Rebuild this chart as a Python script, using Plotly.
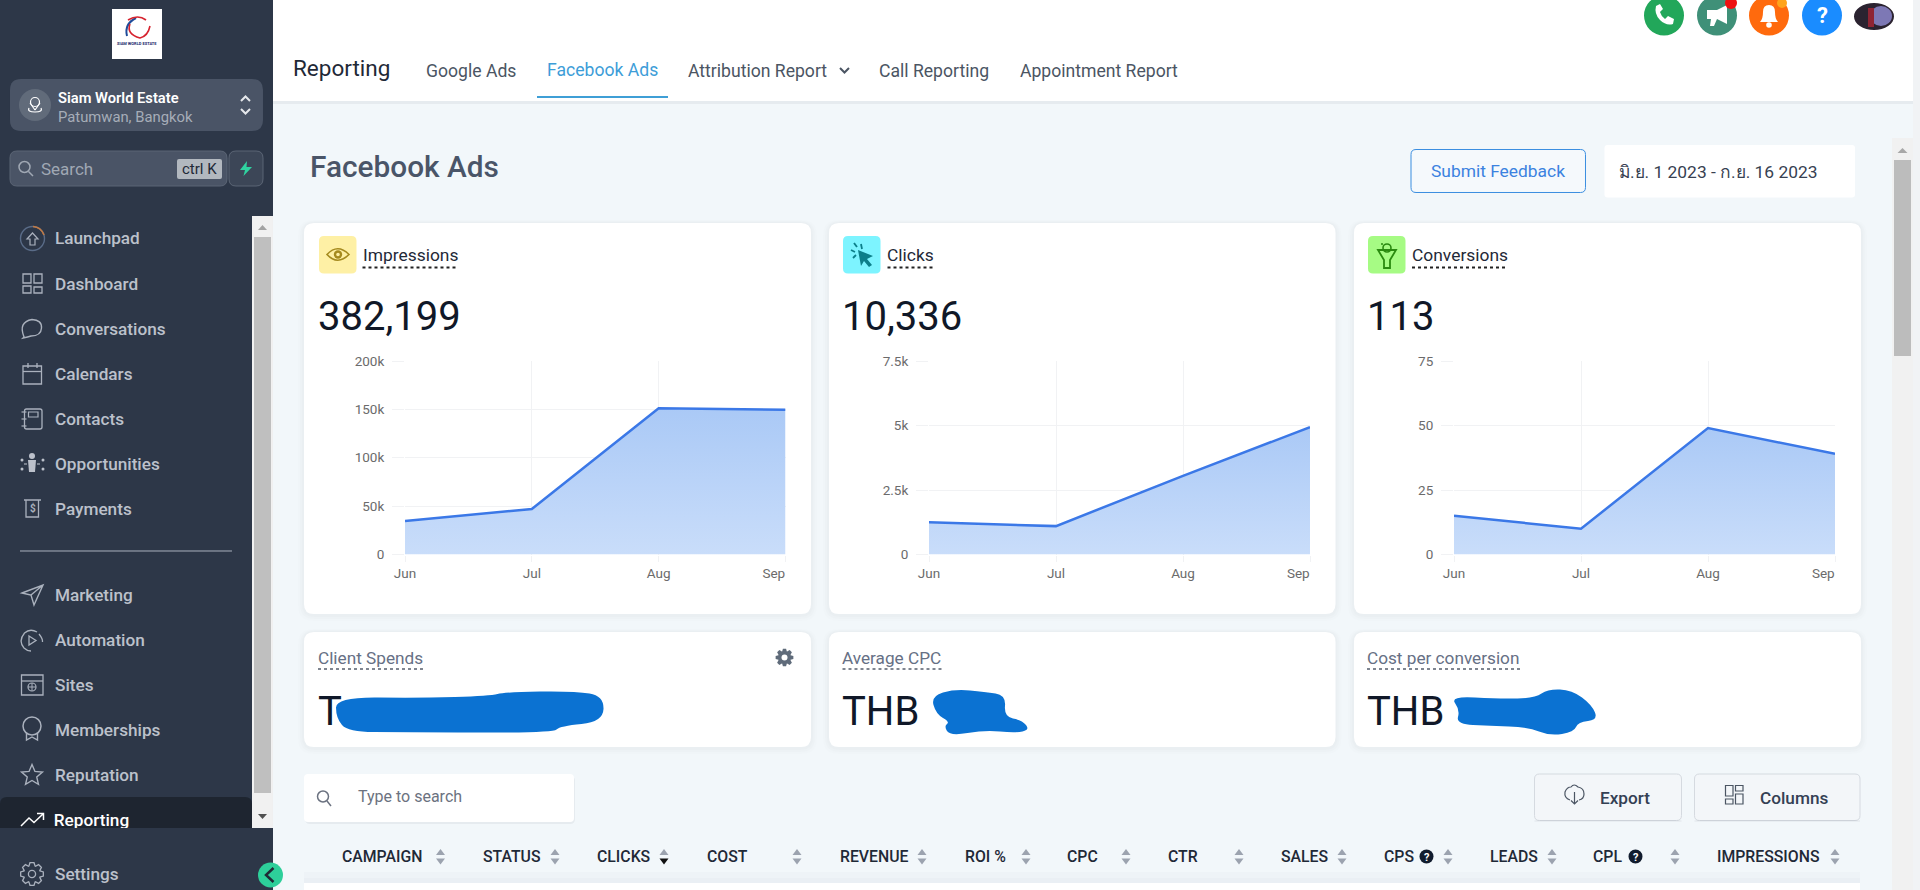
import re
import numpy as np
import plotly.graph_objects as go

# ---------- data ----------
MONTHS = ["Jun", "Jul", "Aug", "Sep"]
IMPRESSIONS = [34500, 47000, 151200, 149500]
CLICKS = [1250, 1100, 3050, 4936]
CONVERSIONS = [15, 10, 49, 39]
IMP_TICKS = [0, 50000, 100000, 150000, 200000]
IMP_LABELS = ["0", "50k", "100k", "150k", "200k"]
CLK_TICKS = [0, 2500, 5000, 7500]
CLK_LABELS = ["0", "2.5k", "5k", "7.5k"]
CNV_TICKS = [0, 25, 50, 75]
CNV_LABELS = ["0", "25", "50", "75"]
KPI_TITLES = ["Impressions", "Clicks", "Conversions"]
KPI_VALUES = ["382,199", "10,336", "113"]
NAV_TOP = ["Launchpad", "Dashboard", "Conversations", "Calendars", "Contacts", "Opportunities", "Payments"]
NAV_BOTTOM = ["Marketing", "Automation", "Sites", "Memberships", "Reputation"]
TABLE_COLS = ["CAMPAIGN", "STATUS", "CLICKS", "COST", "REVENUE", "ROI %", "CPC", "CTR", "SALES", "CPS", "LEADS", "CPL", "IMPRESSIONS"]

W, H = 1920, 890
FONT = "Roboto, 'Noto Sans', 'DejaVu Sans', sans-serif"
shapes, annots = [], []
NUM = re.compile(r"-?\d+(?:\.\d+)?")


def X(px):
    return px / W


def Y(py):
    return 1 - py / H


def conv(d):
    i = [0]

    def rep(m):
        v = float(m.group())
        r = X(v) if i[0] % 2 == 0 else Y(v)
        i[0] += 1
        return f"{r:.6f}"

    return NUM.sub(rep, d)


def path(d, fill=None, line=None, lw=1.0, opacity=1.0, dash=None, layer="below"):
    ln = dict(width=lw if line else 0, color=line or "rgba(0,0,0,0)")
    if dash:
        ln["dash"] = dash
    shapes.append(dict(type="path", xref="paper", yref="paper", path=conv(d), layer=layer,
                       fillcolor=fill or "rgba(0,0,0,0)", line=ln, opacity=opacity))


def rect(x0, y0, x1, y1, fill=None, line=None, lw=1.0, r=0, opacity=1.0):
    if r:
        d = (f"M {x0+r} {y0} L {x1-r} {y0} Q {x1} {y0} {x1} {y0+r} L {x1} {y1-r} Q {x1} {y1} {x1-r} {y1} "
             f"L {x0+r} {y1} Q {x0} {y1} {x0} {y1-r} L {x0} {y0+r} Q {x0} {y0} {x0+r} {y0} Z")
    else:
        d = f"M {x0} {y0} L {x1} {y0} L {x1} {y1} L {x0} {y1} Z"
    path(d, fill, line, lw, opacity)


def blob(pts, color):
    n = len(pts)
    mids = [((pts[k][0]+pts[(k+1) % n][0])/2, (pts[k][1]+pts[(k+1) % n][1])/2) for k in range(n)]
    d = f"M {mids[-1][0]} {mids[-1][1]}"
    for k in range(n):
        d += f" Q {pts[k][0]} {pts[k][1]} {mids[k][0]} {mids[k][1]}"
    path(d + " Z", color)


def circle(cx, cy, rx, fill=None, line=None, lw=1.0, ry=None):
    ry = ry or rx
    shapes.append(dict(type="circle", xref="paper", yref="paper", layer="below",
                       x0=X(cx-rx), x1=X(cx+rx), y0=Y(cy+ry), y1=Y(cy-ry),
                       fillcolor=fill or "rgba(0,0,0,0)",
                       line=dict(width=lw if line else 0, color=line or "rgba(0,0,0,0)")))


def seg(x0, y0, x1, y1, color, lw=1.0, dash=None):
    path(f"M {x0} {y0} L {x1} {y1}", None, color, lw, dash=dash)


def text(x, y, s, size, color, weight=400, anchor="left", family=FONT):
    if anchor == "left":
        x -= 1.2
    annots.append(dict(xref="paper", yref="paper", x=X(x), y=Y(y), text=s, showarrow=False,
                       xanchor=anchor, yanchor="middle", borderpad=0,
                       font=dict(family=family, size=size, color=color, weight=weight)))


def gear_d(cx, cy, r0, r1, n=8):
    pts = []
    for k in range(n):
        a = 2*np.pi*k/n
        w = np.pi/n
        for da, rr in ((-w*0.95, r0), (-w*0.45, r1), (w*0.45, r1), (w*0.95, r0)):
            pts.append((cx+rr*np.cos(a+da), cy+rr*np.sin(a+da)))
    return "M " + " L ".join(f"{abs(x):.2f} {abs(y):.2f}" for x, y in pts) + " Z"


def star_d(cx, cy, r0, r1):
    pts = []
    for k in range(10):
        a = -np.pi/2 + k*np.pi/5
        rr = r1 if k % 2 == 0 else r0
        pts.append((cx+rr*np.cos(a), cy+rr*np.sin(a)))
    return "M " + " L ".join(f"{x:.2f} {y:.2f}" for x, y in pts) + " Z"


def card(x0, y0, x1, y1, r=10):
    rect(x0-6, y0-3, x1+6, y1+7, "#101828", r=r+5, opacity=0.008)
    rect(x0-4, y0-2, x1+4, y1+5, "#101828", r=r+4, opacity=0.01)
    rect(x0-2, y0-1, x1+2, y1+3, "#101828", r=r+2, opacity=0.012)
    rect(x0, y0, x1, y1, "#ffffff", r=r)


# ---------- page ----------
BG = "#f2f7fa"
rect(273, 0, 1920, 890, BG)
rect(1913, 0, 1920, 890, "#f1f3f5")
rect(1892, 138, 1913, 890, "#f1f1f1")
rect(1894, 160, 1911, 356, "#bcbcbc")
path("M 1897.5 153 L 1902.5 148 L 1907.5 153 Z", "#a8a8a8")

# header
rect(273, 100, 1913, 104, "#101828", opacity=0.05)
rect(273, 0, 1913, 101, "#ffffff")
text(293, 68.5, "Reporting", 22.5, "#1f2937")
text(426, 71, "Google Ads", 17.6, "#4b5563")
text(547, 70, "Facebook Ads", 17.6, "#3d9dd8")
text(688, 71, "Attribution Report", 17.6, "#4b5563")
path("M 840 68 L 844.5 72.5 L 849 68", None, "#4b5563", 2)
text(879, 71, "Call Reporting", 17.6, "#4b5563")
text(1020, 71, "Appointment Report", 17.6, "#4b5563")
rect(537, 96, 668, 98, "#3f9fd6")

# top-right icons
circle(1664, 15.5, 20, "#22a75a")
path("M 1656 6 Q 1654 14 1660 20 Q 1666 26 1673 24 L 1674 19 L 1668 16 L 1665 19 Q 1661 16 1660 12 L 1663 9 L 1660 4 Z", "#ffffff")
circle(1717, 15.5, 20, "#3f9078")
path("M 1707 10 L 1717 10 L 1727 5 L 1727 24 L 1717 19 L 1714 26 L 1710 26 L 1711 19 L 1707 19 Z", "#ffffff")
circle(1731, 3, 6, "#ee1111")
circle(1769, 15.5, 20, "#ff6a0d")
path("M 1760 22 Q 1763 19 1763 12 Q 1763 5 1769 5 Q 1775 5 1775 12 Q 1775 19 1778 22 Z", "#ffffff")
circle(1769, 25, 2.8, "#ffffff")
circle(1782, 3, 5, "#ffa31a")
circle(1822, 15.5, 20, "#1a8cff")
text(1822, 16, "?", 22, "#ffffff", 700, "center")
circle(1874, 16.5, 20, "#2b2330", ry=13.5)
circle(1881, 16, 11, "#7d78b5", ry=10)
rect(1868, 8, 1874, 27, "#8f2433")

# sidebar
rect(0, 0, 273, 890, "#2d3748")
rect(112, 9, 162, 59, "#ffffff")
path("M 136 18 Q 124 24 127 36", None, "#1f4b99", 2)
path("M 130 24 Q 126 34 140 38 Q 148 36 150 26", None, "#d6232f", 1.6)
path("M 128 20 Q 138 14 146 20", None, "#d6232f", 1.6)
text(137, 44, "SIAM WORLD ESTATE", 4, "#1a2a6c", 700, "center")

rect(10, 79, 263, 131, "#4a5466", r=11)
circle(35, 105, 16, "#616b7a")
circle(35, 102, 4.5, None, "#ffffff", 1.2)
path("M 35 110 L 30 103 M 35 110 L 40 103 M 29 108 Q 27 112 35 112 Q 43 112 41 108", None, "#ffffff", 1.2)
text(58, 98, "Siam World Estate", 14.7, "#ffffff", 600)
text(58, 117, "Patumwan, Bangkok", 14.8, "#a6adb8")
path("M 241 101 L 245.5 96.5 L 250 101", None, "#e5e7eb", 2)
path("M 241 109 L 245.5 113.5 L 250 109", None, "#e5e7eb", 2)

rect(10, 151, 227, 186, "#4a5466", "#5b6575", 1, r=7)
circle(24.5, 167, 5.5, None, "#a0a8b4", 1.5)
seg(28.5, 171.5, 33, 176, "#a0a8b4", 1.5)
text(41, 168.5, "Search", 17, "#a0a8b4")
rect(177, 159, 222, 179, "#b2b8bf", r=2)
text(199.5, 169, "ctrl K", 15, "#1f2937", 400, "center")
rect(229, 151, 263, 186, "#3c4657", "#5b6575", 1, r=7)
path("M 247 161 L 240 170 L 245 170 L 243.5 176 L 252 167 L 246.5 167 Z", "#2fd3a0")

# sidebar scrollbar
rect(252, 216, 273, 828, "#f1f1f1")
rect(254, 237, 271, 793, "#bfbfbf")
path("M 258 230 L 262.5 225 L 267 230 Z", "#a3a3a3")
path("M 258 814 L 262.5 819 L 267 814 Z", "#505050")

NAV_Y_TOP = [238.5, 283.5, 328.5, 373.5, 418.5, 464, 509]
NAV_Y_BOTTOM = [595, 640, 685, 729.5, 775]
NAVC = "#bcc1cb"
for name, y in zip(NAV_TOP, NAV_Y_TOP):
    text(55, y, name, 17.2, NAVC, 500)
for name, y in zip(NAV_BOTTOM, NAV_Y_BOTTOM):
    text(55, y, name, 17.2, NAVC, 500)
text(55, 874, "Settings", 17.2, NAVC, 500)
seg(20, 551, 232, 551, "#aab1bd", 1)

IC = "#aab1bd"
# launchpad
circle(32.5, 238.5, 12, None, "#5a6c88", 1.4)
path("M 33 226.5 Q 41 227 44 235", None, "#c07a45", 1.6)
path("M 27 239 L 32.5 233 L 38 239 L 35 239 L 35 245 L 30 245 L 30 239 Z", None, IC, 1.2)
# dashboard
rect(23, 274, 31, 283, None, IC, 1.3)
rect(34, 274, 42, 283, None, IC, 1.3)
rect(23, 286, 31, 293, None, IC, 1.3)
rect(34, 287, 42, 293, None, IC, 1.3)
# conversations
path("M 24 337 Q 18 322 32 319.5 Q 42 320 41.5 328 Q 41 336 31 336 Q 28 337 23 338 Z", None, IC, 1.4)
# calendars
rect(23, 366, 41.5, 384, None, IC, 1.3)
seg(23, 371.5, 41.5, 371.5, IC, 1.3)
seg(28, 363, 28, 368, IC, 1.3)
seg(37, 363, 37, 368, IC, 1.3)
# contacts
rect(24.5, 409, 42, 429, None, IC, 1.3, r=2)
rect(28.5, 412, 38, 417, None, IC, 1.2)
for yy in (412, 419, 426):
    seg(21.5, yy, 26.5, yy, IC, 1.2)
# opportunities
circle(32, 456, 3, "#bcc1cb")
path("M 28 460 L 36 460 L 35 472 L 29 472 Z", "#bcc1cb")
for xx, yy in ((22, 460), (43, 460), (22, 469), (43, 469)):
    circle(xx, yy, 1.5, "#bcc1cb")
seg(24, 464, 27, 464, IC, 1.2)
seg(37, 464, 40, 464, IC, 1.2)
# payments
path("M 24 500 L 41 500 M 26 500 L 26 517 L 38.5 517 L 38.5 500", None, IC, 1.3)
text(33, 508, "$", 10, IC, 700, "center")
# marketing
path("M 22 593 L 43 585 L 34 605 L 31 595 Z M 31 595 L 43 585", None, IC, 1.4)
# automation
path("M 37 632 Q 30 628 24.5 633 Q 18 641 24 648 Q 27 651 31 651", None, IC, 1.3)
path("M 39 634 Q 43 639 42.5 642", None, IC, 1.3)
path("M 29 636 L 36 640.5 L 29 645 Z", None, IC, 1.3)
# sites
rect(21.5, 675, 43, 695, None, IC, 1.3)
seg(21.5, 681, 43, 681, IC, 1.3)
circle(32, 687, 4, None, IC, 1.2)
seg(28, 687, 36, 687, IC, 1)
seg(32, 683, 32, 691, IC, 1)
# memberships
circle(32, 726, 9, None, IC, 1.5)
path("M 26.5 733 L 26.5 740 L 32 737 L 37.5 740 L 37.5 733", None, IC, 1.4)
# reputation
path(star_d(32, 775.5, 5, 11), None, IC, 1.4)
# settings
path(gear_d(32, 874, 8.5, 11.5), None, IC, 1.3)
circle(32, 874, 3.6, None, IC, 1.3)

# active item
rect(0, 797, 252, 840, "#1e2530", r=7)
rect(0, 828, 273, 840, "#2d3748")
path("M 21 826 L 29 818 L 34 822.5 L 43 814 M 37 813.5 L 43.5 813.5 L 43.5 820", None, "#ffffff", 1.5)

# collapse handle
circle(270.5, 875, 12.5, "#2dcf9a")
path("M 273.5 868 L 266 875 L 273.5 882", None, "#1f2a37", 2.5)

# title row
text(310.5, 166.5, "Facebook Ads", 29.8, "#4a5568", 500)
rect(1411, 149.5, 1585.5, 192.5, "#f5f9fc", "#3b8ee0", 1, r=5)
text(1498, 171, "Submit Feedback", 17.4, "#3b82e0", 400, "center")
rect(1604.5, 145, 1855, 197.5, "#ffffff", r=3)
text(1619, 172, "มิ.ย. 1 2023 - ก.ย. 16 2023", 17.4, "#374151")

# KPI chart cards
CARD_X = [(304, 811), (829, 1335.5), (1354, 1861)]
for x0, x1 in CARD_X:
    card(x0, 223, x1, 614)
ICON_BOX = [(319, "#fef0a5"), (843, "#7df4ff"), (1368, "#a6fb84")]
for (bx, col), title, val in zip(ICON_BOX, KPI_TITLES, KPI_VALUES):
    rect(bx, 236, bx+37.5, 273.5, col, r=5)
    text(bx+44, 255, title, 17.4, "#1f2937")
    text(bx-1, 316, val, 40, "#101828")
seg(362.5, 267.5, 457, 267.5, "#222222", 2, "dot")
seg(887.5, 267.5, 933, 267.5, "#222222", 2, "dot")
seg(1412, 267.5, 1506, 267.5, "#222222", 2, "dot")
# eye
path("M 327 254.5 Q 337.5 243 349 254.5 Q 337.5 266 327 254.5 Z", None, "#a58a1e", 1.6)
circle(338, 254.5, 4.2, "#a58a1e")
circle(338, 254.5, 1.8, "#fef0a5")
# cursor
path("M 858 250 L 873 256 L 867 259 L 872 265 L 869 267 L 864 261 L 861 266 Z", "#0c7f8a")
for a, b, c, d in ((851, 250, 855, 252), (861, 244, 862, 249), (854, 243, 857, 247), (853, 258, 856, 255)):
    seg(a, b, c, d, "#0c7f8a", 1.8)
# funnel
path("M 1378 250 L 1396 250 L 1390 260 L 1390 268 L 1384 268 L 1384 260 Z", None, "#2a8a10", 1.8)
circle(1387, 248, 4, None, "#2a8a10", 1.6)
circle(1382, 244, 1, "#2a8a10")

# small cards
for x0, x1 in CARD_X:
    card(x0, 632, x1, 747)
text(318, 657.5, "Client Spends", 17.2, "#667085")
seg(318, 669, 423, 669, "#555e6c", 1.5, "dot")
text(842.5, 657.5, "Average CPC", 17.2, "#667085")
seg(842.5, 669, 943, 669, "#555e6c", 1.5, "dot")
text(1367, 657.5, "Cost per conversion", 17.2, "#667085")
seg(1367, 669, 1522, 669, "#555e6c", 1.5, "dot")
path(gear_d(784.5, 657.5, 6.5, 9), "#5f6b7a")
circle(784.5, 657.5, 3, "#ffffff")
text(318, 711, "T", 40, "#101828")
text(842.5, 711, "THB", 40, "#101828")
text(1367, 711, "THB", 40, "#101828")
BLUE = "#0b72d2"
blob([(336, 697), (420, 698), (490, 696), (505, 692), (575, 691), (604, 696), (603, 722), (560, 726), (553, 733),
      (400, 732), (348, 732), (336, 718)], BLUE)
blob([(931, 696), (955, 689), (985, 692), (1006, 695), (1004, 717), (1022, 720), (1030, 730), (1015, 733), (985, 730),
      (950, 736), (944, 726), (950, 722), (936, 714)], BLUE)
blob([(1450, 696), (1500, 699), (1535, 698), (1548, 689), (1572, 690), (1592, 705), (1598, 720), (1578, 722), (1574, 732),
      (1550, 736), (1528, 727), (1490, 726), (1456, 724), (1460, 710)], BLUE)

# search and buttons
rect(305, 776, 575, 824, "#101828", r=5, opacity=0.05)
rect(304, 774, 574, 822, "#ffffff", r=4)
circle(323, 796.5, 5.5, None, "#6b7280", 1.5)
seg(327, 801, 331, 806, "#6b7280", 1.5)
text(358, 796.5, "Type to search", 16, "#6b7280")
for x0, x1 in ((1534.5, 1681.5), (1694.5, 1860)):
    rect(x0, 774, x1, 820.5, "#f3f6f9", "#d5dae0", 1, r=5)
    rect(x0, 820, x1, 822, "#101828", opacity=0.04)
path("M 1570 800 Q 1564 798 1565 792 Q 1567 787 1571 787 Q 1574 783 1578 787 Q 1584 788 1584 794 Q 1584 799 1579 800",
     None, "#4b5563", 1.2)
path("M 1574.5 792 L 1574.5 804 M 1571 800.5 L 1574.5 804 L 1578 800.5", None, "#4b5563", 1.2)
text(1600, 798, "Export", 17.2, "#344054", 500)
rect(1725.5, 785.5, 1733, 796, None, "#4b5563", 1.2)
rect(1735.5, 785.5, 1743, 791, None, "#4b5563", 1.2)
rect(1725.5, 799, 1733, 804, None, "#4b5563", 1.2)
rect(1735.5, 794, 1743, 804, None, "#4b5563", 1.2)
text(1760.5, 798, "Columns", 17.2, "#344054", 500)

# table header
rect(304, 872, 1860, 883, "#101828", opacity=0.015)
rect(304, 878, 1860, 883, "#101828", opacity=0.015)
rect(304, 883, 1860, 890, "#ffffff")
COL_X = [342, 483.5, 597, 707, 840, 965, 1067.5, 1168, 1281, 1384, 1490, 1593.5, 1717]
SORT_X = [440.5, 555, 664, 797, 922, 1026, 1126, 1239, 1342, 1448, 1552, 1675, 1835]
for name, cx, sx in zip(TABLE_COLS, COL_X, SORT_X):
    text(cx, 856.5, name, 15.8, "#1f2937", 500)
    path(f"M {sx-4.5} 855 L {sx} 849 L {sx+4.5} 855 Z", "#9ca3af")
    lower = "#111111" if name == "CLICKS" else "#9ca3af"
    path(f"M {sx-4.5} 858.5 L {sx} 864.5 L {sx+4.5} 858.5 Z", lower)
for qx in (1426.5, 1635.5):
    circle(qx, 856.5, 7, "#111c2e")
    text(qx, 857, "?", 11, "#ffffff", 700, "center")

# ---------- charts ----------
fig = go.Figure()
LINE = "#3b78e7"
GRID = "#f1f2f4"
TICKC = "#6b6b6b"
SEP_PAD = "\u00a0" * 7
SPECS = [
    (IMPRESSIONS, IMP_TICKS, IMP_LABELS, 200000, 405, 785.5),
    (CLICKS, CLK_TICKS, CLK_LABELS, 7500, 929, 1310),
    (CONVERSIONS, CNV_TICKS, CNV_LABELS, 75, 1454, 1835),
]
layout_axes = {}
for i, (vals, yt, yl, ymax, px0, px1) in enumerate(SPECS, start=1):
    sfx = "" if i == 1 else str(i)
    fig.add_trace(go.Scatter(
        x=MONTHS, y=vals, mode="lines", name=KPI_TITLES[i-1], showlegend=False,
        line=dict(color=LINE, width=2.5), fill="tozeroy",
        fillgradient=dict(type="vertical", colorscale=[[0, "#c9ddfa"], [1, "#aac9f6"]]),
        xaxis=f"x{sfx}", yaxis=f"y{sfx}"))
    layout_axes[f"xaxis{sfx}"] = dict(
        domain=[X(px0), X(px1)], anchor=f"y{sfx}", type="category", categoryorder="array",
        categoryarray=MONTHS, range=[0, len(MONTHS)-1], showgrid=True, gridcolor=GRID, gridwidth=1,
        zeroline=False, showline=False, ticks="outside", ticklen=6, tickcolor=GRID,
        tickmode="array", tickvals=MONTHS,
        ticktext=MONTHS[:-1] + [MONTHS[-1] + SEP_PAD],
        tickfont=dict(family=FONT, size=13.5, color=TICKC), ticklabelstandoff=0)
    layout_axes[f"yaxis{sfx}"] = dict(
        domain=[Y(554.5), Y(361)], anchor=f"x{sfx}", range=[0, ymax], showgrid=True,
        gridcolor=GRID, gridwidth=1, zeroline=False, showline=False, ticks="outside", ticklen=12,
        tickcolor=GRID, tickmode="array", tickvals=yt, ticktext=yl,
        tickfont=dict(family=FONT, size=13.5, color=TICKC), ticklabelstandoff=5)

# active nav label, clipped by its row like the page's scroll area
fig.add_trace(go.Scatter(
    x=[53.8], y=[25], mode="text", text=["Reporting"], textposition="middle right",
    textfont=dict(family=FONT, size=17.2, color="#ffffff", weight=500),
    hoverinfo="skip", showlegend=False, xaxis="x4", yaxis="y4", cliponaxis=True))
layout_axes["xaxis4"] = dict(domain=[0, X(252)], range=[0, 252], visible=False, anchor="y4")
layout_axes["yaxis4"] = dict(domain=[Y(828), Y(797)], range=[31, 0], visible=False, anchor="x4")

fig.update_layout(
    width=W, height=H, margin=dict(l=0, r=0, t=0, b=0, pad=0, autoexpand=False), autosize=False,
    paper_bgcolor=BG, plot_bgcolor="rgba(0,0,0,0)", showlegend=False,
    font=dict(family=FONT), shapes=shapes, annotations=annots, **layout_axes)

fig.write_html("out.html", config=dict(displayModeBar=False),
               post_script="document.body.style.margin='0';document.documentElement.style.overflow='hidden';")
